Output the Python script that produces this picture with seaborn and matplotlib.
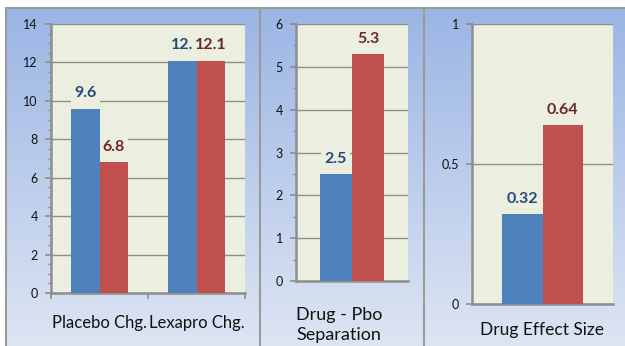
import numpy as np
import pandas as pd
import matplotlib
matplotlib.use("Agg")
import matplotlib.pyplot as plt
import matplotlib.ticker as mticker
import seaborn as sns

# ---- data ----
series = ["Study A", "Study B"]

change_categories = ["Placebo Chg.", "Lexapro Chg."]
change_a = [9.6, 12.1]
change_b = [6.8, 12.1]
change_labels_a = ["9.6", "12."]
change_labels_b = ["6.8", "12.1"]

separation_category = ["Drug - Pbo\nSeparation"]
separation_a = [2.5]
separation_b = [5.3]

effect_category = ["Drug Effect Size"]
effect_a = [0.32]
effect_b = [0.64]

# ---- styling ----
BLUE = "#4F81BD"
RED = "#C0504D"
BLUE_TXT = "#234A7C"
RED_TXT = "#6A2826"
PLOT_BG = "#ECEFE0"
GRID = "#8E8E8E"
SPINE = "#8E8E8E"
TEXT = "#111111"

sns.set_theme(style="white")
plt.rcParams["font.family"] = ["Lato", "DejaVu Sans"]

W, H = 625, 346
fig = plt.figure(figsize=(W / 100, H / 100), dpi=100, facecolor="white")


def rect(x0, y0, x1, y1):
    return [x0 / W, (H - y1) / H, (x1 - x0) / W, (y1 - y0) / H]


# background panels with a vertical gradient
bg = fig.add_axes([0, 0, 1, 1], zorder=-10)
bg.set_xlim(0, W)
bg.set_ylim(H, 0)
bg.axis("off")
top = np.array([155, 181, 228]) / 255
bot = np.array([221, 229, 243]) / 255
t = np.linspace(0, 1, 256)[:, None]
grad = (top[None, :] * (1 - t) + bot[None, :] * t)[:, None, :]
bg.imshow(grad, extent=[6, W, H, 8], aspect="auto", interpolation="bilinear")
for xb in (6, 259.5, 424):
    bg.plot([xb, xb], [8, H], color="#9A9A9A", lw=1.5)
bg.plot([6, W], [8, 8], color="#9A9A9A", lw=1.5)


def make_frame(categories, a_vals, b_vals):
    rows = []
    for c, va, vb in zip(categories, a_vals, b_vals):
        rows.append({"category": c, "series": series[0], "value": va})
        rows.append({"category": c, "series": series[1], "value": vb})
    return pd.DataFrame(rows)


def draw_panel(r, categories, a_vals, b_vals, labels_a, labels_b, ymax, major, minor, width):
    ax = fig.add_axes(r)
    ax.set_facecolor(PLOT_BG)
    df = make_frame(categories, a_vals, b_vals)
    sns.barplot(data=df, x="category", y="value", hue="series", palette=[BLUE, RED],
                width=width, saturation=1, linewidth=0, gap=0, legend=False, ax=ax, zorder=3)
    ax.set_ylim(0, ymax)
    ax.set_xlim(-0.5, len(categories) - 0.5)
    ax.yaxis.set_major_locator(mticker.MultipleLocator(major))
    if minor:
        ax.yaxis.set_minor_locator(mticker.MultipleLocator(minor))
    ax.grid(axis="y", which="major", color=GRID, lw=1.0, zorder=1)
    ax.set_axisbelow(True)
    for s in ("top", "right"):
        ax.spines[s].set_visible(False)
    for s in ("left", "bottom"):
        ax.spines[s].set_color(SPINE)
        ax.spines[s].set_linewidth(1.8)
    ax.tick_params(axis="y", which="major", length=4.5, width=1.2, color=SPINE,
                   labelsize=9, pad=5, left=True, labelcolor=TEXT)
    ax.tick_params(axis="y", which="minor", length=2.5, width=1.0, color=SPINE, left=True)
    ax.set_xlabel("")
    ax.set_ylabel("")
    fmt = lambda v, p: f"{v:g}"
    ax.yaxis.set_major_formatter(mticker.FuncFormatter(fmt))
    # value labels sit above the grid but beneath the bars
    for cont, labs, col in zip(ax.containers, (labels_a, labels_b), (BLUE_TXT, RED_TXT)):
        for bar, lab in zip(cont, labs):
            ax.annotate(lab, (bar.get_x() + bar.get_width() / 2, bar.get_height()),
                        xytext=(0, 11), textcoords="offset points", ha="center", va="center",
                        fontsize=11.5, fontweight="bold", color=col, zorder=2,
                        bbox=dict(boxstyle="square,pad=0.2", fc=PLOT_BG, ec="none"))
    return ax


# panel 1: changes from baseline
ax1 = draw_panel(rect(51, 24, 245, 293), change_categories, change_a, change_b,
                 change_labels_a, change_labels_b, 14, 2, 0.5, 0.58)
ax1.set_xticks(range(len(change_categories)), labels=change_categories)
ax1.xaxis.set_minor_locator(mticker.FixedLocator([-0.5, 0.5, 1.5]))
ax1.tick_params(axis="x", which="major", length=0, labelsize=12, pad=16, labelcolor=TEXT)
ax1.tick_params(axis="x", which="minor", length=4, width=1.2, color=SPINE, bottom=True)

# panel 2: drug minus placebo separation
ax2 = draw_panel(rect(296, 24, 408, 281), separation_category, separation_a, separation_b,
                 ["2.5"], ["5.3"], 6, 1, 0.5, 0.58)
ax2.set_xticks([-0.5], labels=separation_category)
for lab in ax2.get_xticklabels():
    lab.set_ha("left")
    lab.set_linespacing(1.3)
ax2.tick_params(axis="x", which="major", length=0, labelsize=13, pad=19, labelcolor=TEXT)

# panel 3: effect size
ax3 = draw_panel(rect(472, 24, 613, 304), effect_category, effect_a, effect_b,
                 ["0.32"], ["0.64"], 1, 0.5, None, 0.574)
ax3.set_xticks([0], labels=effect_category)
ax3.tick_params(axis="x", which="major", length=0, labelsize=12.5, pad=13, labelcolor=TEXT)

fig.savefig("out.png", dpi=100, facecolor="white")
